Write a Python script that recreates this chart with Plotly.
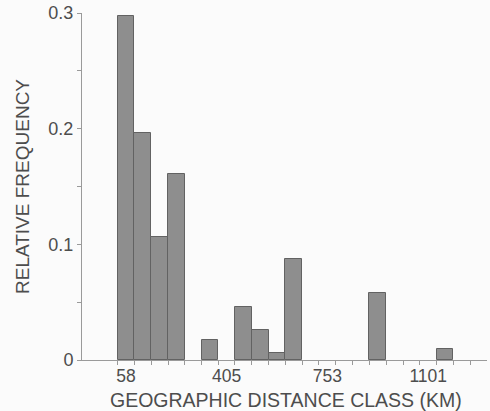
import plotly.graph_objects as go

# distance class midpoints (km)
distance_class = [58, 116, 174, 232, 290, 348, 405, 463, 521, 579, 637,
                  695, 753, 811, 869, 927, 985, 1043, 1101, 1159, 1217, 1275]
# relative frequency per class
rel_freq = [0.297, 0.196, 0.106, 0.161, 0.0, 0.017, 0.0, 0.046, 0.026, 0.006, 0.087,
            0.0, 0.0, 0.0, 0.0, 0.058, 0.0, 0.0, 0.0, 0.0095, 0.0, 0.0]
x_tick_vals = [58, 405, 753, 1101]
x_tick_text = ["58", "405", "753", "1101"]
y_tick_vals = [0, 0.1, 0.2, 0.3]
y_tick_text = ["0", "0.1", "0.2", "0.3"]
x_title = "GEOGRAPHIC DISTANCE CLASS (KM)"
y_title = "RELATIVE FREQUENCY"

W, H = 490, 411
ML, MR, MT, MB = 82, 3, 13, 51
bin_w = 57.94
edges = [c + bin_w / 2 for c in [distance_class[0] - bin_w] + distance_class]

text_col = "#4d4d4d"
axis_col = "#9a9a9a"
font_family = "Liberation Sans, Arial, Helvetica, sans-serif"

fig = go.Figure()
fig.add_trace(go.Bar(
    x=distance_class, y=rel_freq, width=[bin_w] * len(distance_class),
    marker=dict(color="#8e8e8e",
                line=dict(color="#626262", width=[1 if v > 0 else 0 for v in rel_freq])),
    showlegend=False, hoverinfo="skip",
))

pw = W - ML - MR
ph = H - MT - MB
fig.update_layout(
    width=W, height=H,
    margin=dict(l=ML, r=MR, t=MT, b=MB),
    paper_bgcolor="#fbfbfb", plot_bgcolor="#fbfbfb",
    font=dict(family=font_family, color=text_col, size=17),
    bargap=0,
    annotations=[
        dict(text=x_title, xref="paper", yref="paper",
             x=(285.5 - ML) / pw, y=-(400 - (H - MB)) / ph,
             xanchor="center", yanchor="middle", showarrow=False,
             font=dict(size=19.5, color=text_col)),
        dict(text=y_title, xref="paper", yref="paper",
             x=-(ML - 22) / pw, y=((H - MB) - 187) / ph,
             xanchor="center", yanchor="middle", showarrow=False, textangle=-90,
             font=dict(size=19, color=text_col)),
    ],
)
fig.update_xaxes(
    range=[58 - 2.62 * bin_w, 58 + 21.5 * bin_w], automargin=False,
    showline=True, linecolor=axis_col, linewidth=1,
    showgrid=False, zeroline=False,
    tickmode="array", tickvals=x_tick_vals, ticktext=x_tick_text,
    ticks="", tickfont=dict(size=17.5, color=text_col),
    ticklabelstandoff=0,
    minor=dict(tickmode="array", tickvals=edges, ticks="outside", ticklen=4,
               tickcolor=axis_col, tickwidth=1, showgrid=False),
)
fig.update_yaxes(
    range=[0, 0.3], automargin=False,
    showline=True, linecolor=axis_col, linewidth=1,
    showgrid=False, zeroline=False,
    tickmode="array", tickvals=y_tick_vals, ticktext=y_tick_text,
    ticks="outside", ticklen=4, tickcolor=axis_col, tickwidth=1,
    tickfont=dict(size=18, color=text_col),
    minor=dict(tickmode="array", tickvals=[0.05, 0.15, 0.25], ticks="outside", ticklen=4,
               tickcolor=axis_col, tickwidth=1, showgrid=False),
)

fig.write_html("out.html", config={"displayModeBar": False},
               post_script="document.body.style.margin='0';document.body.style.overflow='hidden';")
